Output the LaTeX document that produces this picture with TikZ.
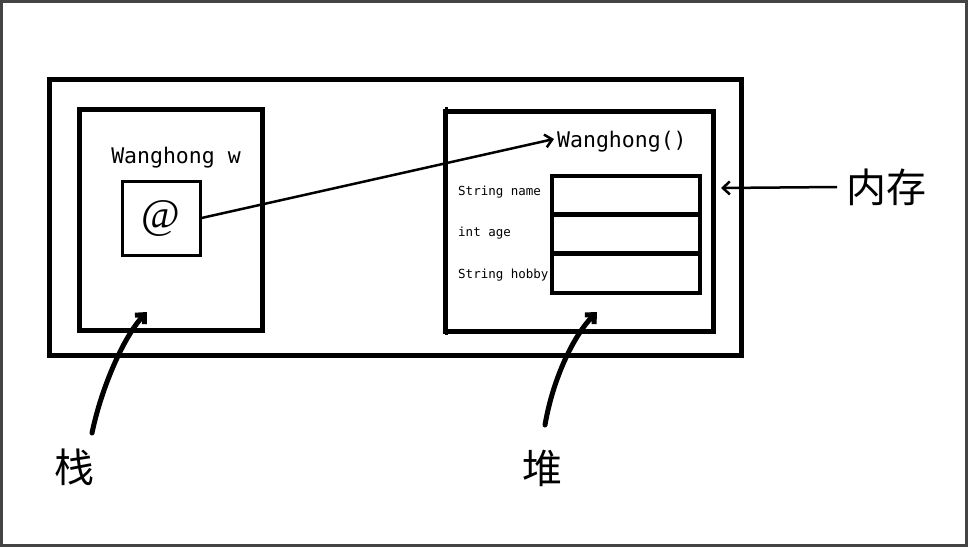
\documentclass[tikz,border=0pt]{standalone}
\usepackage{fontspec}
\setmonofont{DejaVu Sans Mono}
\newfontfamily\cjk{Noto Sans CJK SC}
\newfontfamily\atfont{Liberation Serif}
\usetikzlibrary{arrows.meta}
\definecolor{framegray}{HTML}{444444}

\begin{document}
\begin{tikzpicture}[
    x=1pt, y=-1pt,
    >={Straight Barb[length=7pt,width=13pt]},
    box/.style={draw, line width=5pt, inner sep=0pt},
    field/.style={draw, line width=4pt, inner sep=0pt,
      minimum width=148pt, minimum height=39pt},
    fieldlbl/.style={anchor=west, inner sep=0pt,
      font=\fontsize{12.5}{14}\selectfont\ttfamily},
    code/.style={font=\fontsize{21.5}{24}\selectfont\ttfamily},
    zh/.style={font=\fontsize{40}{44}\selectfont\cjk}
  ]

    % Frame --------------------------------------------------------
    \useasboundingbox (0,0) rectangle (968,547);
    \fill[framegray] (0,0) rectangle (968,547);
    \fill[white] (3,3) rectangle (965,544);

    % Memory and its two parts -------------------------------------
    \node[box, minimum width=692pt, minimum height=276pt] (memory) at (395,217) {};
    \node[box, minimum width=183pt, minimum height=221pt] (stack) at (170.5,219.5) {};
    \node[box, minimum width=268pt, minimum height=220pt] (heap) at (579,221) {};
    \draw[line width=3pt] (446.5,107) -- (446.5,335);

    % Stack contents
    \node[code] (ref) at (176,158) {Wanghong w};
    \node[draw, line width=3pt, minimum width=78pt, minimum height=74pt,
      font=\fontsize{42}{44}\selectfont\atfont] (ptr) at (161,218) {@};

    % Heap contents
    \node[code, anchor=west, inner sep=0pt] (obj) at (557,142) {Wanghong()};
    \node[field] (fname) at (626,195) {};
    \node[field] (fage) at (626,233) {};
    \node[field] (fhobby) at (626,273) {};
    \node[fieldlbl] (lname) at (458,192) {String name};
    \node[fieldlbl] (lage) at (458,233) {int age};
    \node[fieldlbl] (lhobby) at (458,275) {String hobby};

    % Reference arrow ----------------------------------------------
    \draw[->, line width=2.5pt] (ptr.east) -- ([xshift=-3pt,yshift=3pt]obj.west);

    % Labels -------------------------------------------------------
    \node[zh, anchor=west, inner sep=0pt] (memlbl) at (846,187) {内存};
    \coordinate (memtip) at (721,188);
    \draw[->, line width=2.5pt] ([xshift=-9pt]memlbl.west) -- (memtip);

    \node[zh] (stacklbl) at (74,467) {栈};
    \coordinate (stacktip) at (147,312);
    \draw[->, line width=5pt, line cap=round]
      (92,433) .. controls (102,385) and (125,335) .. (stacktip);

    \node[zh] (heaplbl) at (542,468) {堆};
    \coordinate (heaptip) at (597,312);
    \draw[->, line width=5pt, line cap=round]
      (545,425) .. controls (553,378) and (574,335) .. (heaptip);

  \end{tikzpicture}
\end{document}
